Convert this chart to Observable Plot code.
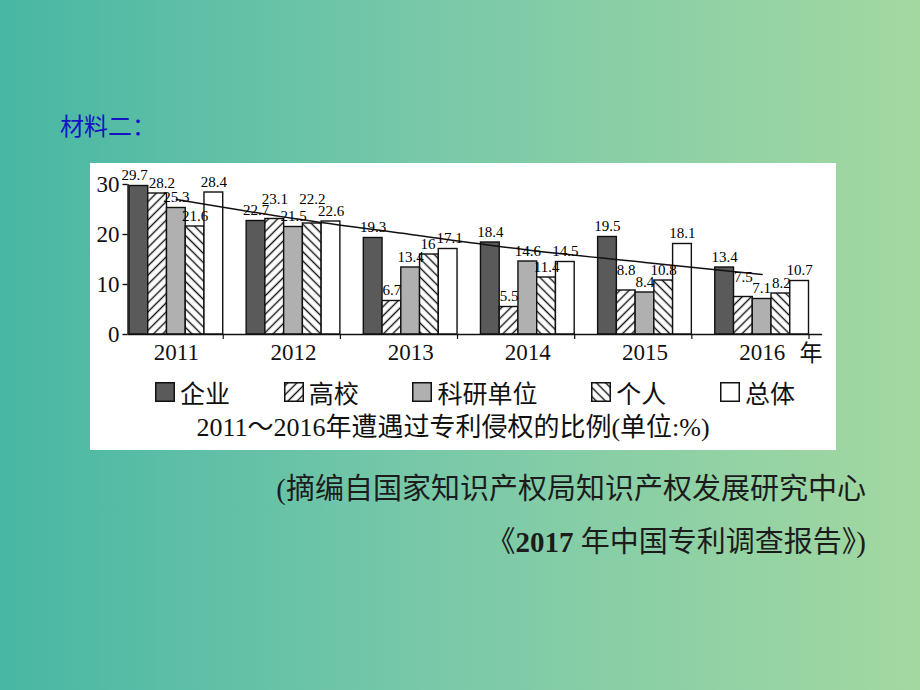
<!DOCTYPE html>
<html>
<head>
<meta charset="utf-8">
<script src="https://cdn.jsdelivr.net/npm/d3@7"></script>
<script src="https://cdn.jsdelivr.net/npm/@observablehq/plot@0.6"></script>
<style>
  html, body { margin: 0; padding: 0; }
  body {
    width: 920px; height: 690px; overflow: hidden; position: relative;
    background: linear-gradient(90deg, #48b7a3 0%, #77c8a9 45%, #a3d8a1 100%);
    font-family: "Liberation Serif", "Noto Sans CJK SC", serif;
  }
  #heading { position: absolute; left: 60px; top: 111px; font: 24px/28px "Noto Sans CJK SC", sans-serif; color: #1414c4; }
  #box { position: absolute; left: 90px; top: 163px; width: 746px; height: 287px; background: #fff; }
  #chart { position: absolute; left: 0; top: 0; }
  #legend { position: absolute; left: 65px; top: 213px; width: 640px; height: 32px;
            display: flex; justify-content: space-between; align-items: center; }
  .item { display: flex; align-items: center; font: 25px/32px "Noto Sans CJK SC", sans-serif; color: #111; }
  .item svg { margin-right: 5px; display: block; }
  #title { position: absolute; left: 0; width: 726px; top: 249px; text-align: center;
           font: 26px/32px "Liberation Serif", "Noto Sans CJK SC", serif; color: #111; white-space: nowrap; }
  #source { position: absolute; right: 54px; top: 463px; text-align: right;
            font: 29px/53px "Liberation Serif", "Noto Sans CJK SC", serif; color: #1c1c1c; white-space: nowrap; }
  #source b { font-weight: bold; }
</style>
</head>
<body>
<svg width="0" height="0" style="position:absolute">
  <defs>
    <pattern id="hatchF" patternUnits="userSpaceOnUse" width="6.5" height="6.5" patternTransform="rotate(45)">
      <rect width="6.5" height="6.5" fill="#fff"></rect>
      <line x1="3.25" y1="-1" x2="3.25" y2="7.5" stroke="#111" stroke-width="1.4"></line>
    </pattern>
    <pattern id="hatchB" patternUnits="userSpaceOnUse" width="6.5" height="6.5" patternTransform="rotate(-45)">
      <rect width="6.5" height="6.5" fill="#fff"></rect>
      <line x1="3.25" y1="-1" x2="3.25" y2="7.5" stroke="#111" stroke-width="1.4"></line>
    </pattern>
  </defs>
</svg>
<div id="heading"></div>
<div id="box">
  <div id="chart"></div>
  <div id="legend"></div>
  <div id="title"></div>
</div>
<div id="source"></div>
<script>
// ---------- data ----------
const years = ["2011", "2012", "2013", "2014", "2015", "2016"];
const seriesNames = ["企业", "高校", "科研单位", "个人", "总体"];
const qiye    = [29.7, 22.7, 19.3, 18.4, 19.5, 13.4];
const gaoxiao = [28.2, 23.1, 6.7, 5.5, 8.8, 7.5];
const keyan   = [25.3, 21.5, 13.4, 14.6, 8.4, 7.1];
const geren   = [21.6, 22.2, 16, 11.4, 10.8, 8.2];
const zongti  = [28.4, 22.6, 17.1, 14.5, 18.1, 10.7];
const trendValues = [27.0, 23.2, 20.0, 16.9, 14.4, 12.0];
const yTicks = [0, 10, 20, 30];
const xUnit = "年";
const headingText = "材料二：";
const chartTitle = "2011～2016年遭遇过专利侵权的比例(单位:%)";
const sourceLines = ["(摘编自国家知识产权局知识产权发展研究中心", "《2017 年中国专利调查报告》)"];

// ---------- styles ----------
const fills = ["#5a5a5a", "url(#hatchF)", "#b0b0b0", "url(#hatchB)", "#ffffff"];
const ink = "#111";

// ---------- layout ----------
const W = 746, H = 207;
const mL = 37.5, mR = 14, mT = 21, mB = 36;
const xRange = [39, 718.5];
const pInner = 0.2;
const bw = (xRange[1] - xRange[0]) / (years.length - pInner) * (1 - pInner);
const sub = bw / seriesNames.length;
const yMax = 30;
const pxPerUnit = (H - mT - mB) / yMax;

const valueSets = [qiye, gaoxiao, keyan, geren, zongti];
const rows = [];
valueSets.forEach((vals, si) => vals.forEach((v, yi) => rows.push({year: years[yi], series: seriesNames[si], si, yi, value: v})));

// ---------- label placement (collision avoidance) ----------
const fs = 15;
const glyphH = 0.7 * fs;
const textW = s => [...s].reduce((a, c) => a + (c === "." ? 0.25 : 0.5) * fs, 0);
rows.forEach(d => { d.label = String(d.value); d.w = textW(d.label); d.base = -d.value * pxPerUnit; d.cx = (d.si + 0.5) * sub; d.shift = 0; });
// 1) lift odd-series labels that sit at nearly the same height as a colliding neighbour
for (const r of rows) {
  if (r.si % 2 !== 1) continue;
  let base = r.base;
  for (const n of rows) {
    if (n.yi !== r.yi || Math.abs(n.si - r.si) !== 1) continue;
    const hOverlap = Math.abs(n.cx - r.cx) < (n.w + r.w) / 2;
    if (hOverlap && Math.abs(n.base - r.base) < 4) base = Math.min(base, n.base - glyphH - 1);
  }
  r.newBase = base;
}
rows.forEach(r => { if (r.newBase !== undefined) r.base = r.newBase; });
// 2) push remaining overlapping neighbours apart horizontally
years.forEach((y, yi) => {
  const g = rows.filter(d => d.yi === yi).sort((a, b) => a.si - b.si);
  for (let k = 0; k < g.length - 1; k++) {
    const a = g[k], b = g[k + 1];
    const ov = (a.cx + a.shift + a.w / 2) - (b.cx + b.shift - b.w / 2);
    if (ov > 0 && Math.abs(a.base - b.base) < glyphH) { a.shift -= ov / 2 + 0.5; b.shift += ov / 2 + 0.5; }
  }
});

const marks = [];
seriesNames.forEach((name, si) => {
  marks.push(Plot.barY(rows.filter(d => d.si === si), {
    x: "year", y: "value", fill: fills[si], stroke: ink, strokeWidth: 1.4,
    insetLeft: si * sub, insetRight: (seriesNames.length - 1 - si) * sub
  }));
});
// axis lines
marks.push(Plot.ruleY([0], {stroke: ink, strokeWidth: 1.4}));
marks.push(Plot.ruleX([years[0]], {y1: 0, y2: yMax, dx: mL - (xRange[0] + bw / 2), stroke: ink, strokeWidth: 1.4}));
marks.push(Plot.ruleX(years, {y1: 0, y2: -5 / pxPerUnit, dx: bw / 2, stroke: ink, strokeWidth: 1.2}));
// trend line
marks.push(Plot.line(years.map((y, i) => ({year: y, v: trendValues[i]})), {x: "year", y: "v", curve: "monotone-x", stroke: ink, strokeWidth: 1.5}));
// value labels
rows.forEach(r => {
  marks.push(Plot.text([r], {
    x: "year", y: d => -d.base / pxPerUnit, text: "label",
    dx: -bw / 2 + r.cx + r.shift, dy: -6, lineAnchor: "bottom",
    fontSize: fs, fontFamily: "Liberation Serif", fill: "#000"
  }));
});
marks.push(Plot.axisY(yTicks, {anchor: "left", tickSize: 5, tickPadding: 3.5, fontSize: 23, fontFamily: "Liberation Serif", label: null, stroke: ink, strokeWidth: 1.4}));
marks.push(Plot.axisX({tickSize: 0, tickPadding: 9, fontSize: 23, fontFamily: "Liberation Serif", label: null}));
marks.push(Plot.text([xUnit], {frameAnchor: "bottom-right", textAnchor: "end", lineAnchor: "middle", dy: 19, fontSize: 23, fontFamily: "Noto Sans CJK SC", fill: ink}));

const chart = Plot.plot({
  width: W, height: H,
  marginLeft: mL, marginRight: mR, marginTop: mT, marginBottom: mB,
  x: {type: "band", domain: years, range: xRange, paddingInner: pInner, paddingOuter: 0, round: false, axis: null},
  y: {domain: [0, yMax], axis: null},
  style: {background: "transparent", color: ink, overflow: "visible"},
  marks
});
document.getElementById("chart").append(chart);

// ---------- legend ----------
const legend = document.getElementById("legend");
seriesNames.forEach((name, si) => {
  const item = document.createElement("div");
  item.className = "item";
  item.innerHTML = `<svg width="20" height="20"><rect x="0.75" y="0.75" width="18.5" height="18.5" fill="${fills[si]}" stroke="${ink}" stroke-width="1.5"></rect></svg><span>${name}</span>`;
  legend.append(item);
});
document.getElementById("title").textContent = chartTitle;
document.getElementById("heading").textContent = headingText;
document.getElementById("source").innerHTML = sourceLines.map(l => l.replace(/(\d+)/g, "<b>$1</b>")).join("<br>");
</script>
</body>
</html>
